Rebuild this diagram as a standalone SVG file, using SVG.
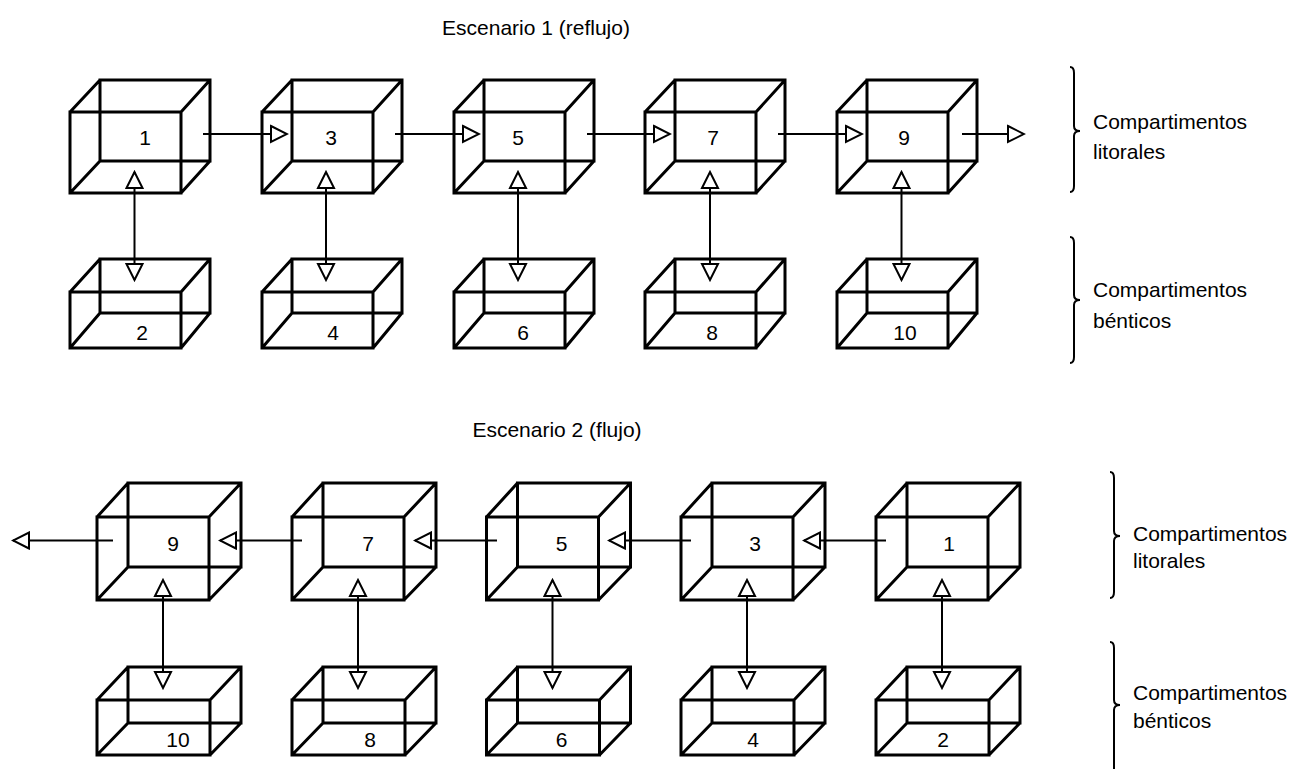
<svg xmlns="http://www.w3.org/2000/svg" width="1300" height="769" viewBox="0 0 1300 769">
<style>
.box{fill:none;stroke:#000;stroke-width:3;stroke-linejoin:miter}
.lbl{font-family:"Liberation Sans",Arial,sans-serif;font-size:21px;fill:#000;text-anchor:middle}
.txt{font-family:"Liberation Sans",Arial,sans-serif;font-size:21px;fill:#000}
.con{fill:none;stroke:#000;stroke-width:2}
.brace{fill:none;stroke:#000;stroke-width:2}
</style>
<defs>
<marker id="ah" viewBox="0 0 20 20" refX="18" refY="10" markerWidth="20" markerHeight="20" markerUnits="userSpaceOnUse" orient="auto-start-reverse">
<path d="M2,2 L18,10 L2,18 Z" fill="#fff" stroke="#000" stroke-width="2"/>
</marker>
<path id="t1" d="M0,112 H111 V193 H0 Z M30,80 H140 V161 H30 Z M0,112 L30,80 M111,112 L140,80 M111,193 L140,161 M0,193 L30,161"/>
<path id="b1" d="M0,292 H111 V348 H0 Z M30,259 H140 V313 H30 Z M0,292 L30,259 M111,292 L140,259 M111,348 L140,313 M0,348 L30,313"/>
<path id="t2" d="M0,517 H112 V600 H0 Z M31,483 H144 V567 H31 Z M0,517 L31,483 M112,517 L144,483 M112,600 L144,567 M0,600 L31,567"/>
<path id="b2" d="M0,700 H113 V755 H0 Z M31,667 H144 V723 H31 Z M0,700 L31,667 M113,700 L144,667 M113,755 L144,723 M0,755 L31,723"/>
</defs>
<rect width="1300" height="769" fill="#fff"/>

<text class="lbl" x="536" y="35">Escenario 1 (reflujo)</text>
<text class="lbl" x="557" y="437">Escenario 2 (flujo)</text>

<!-- Scenario 1 littoral -->
<g id="s1-n1" transform="translate(70,0)"><use href="#t1" class="box"/><text class="lbl" x="75" y="145">1</text></g>
<g id="s1-n3" transform="translate(262,0)"><use href="#t1" class="box"/><text class="lbl" x="69" y="145">3</text></g>
<g id="s1-n5" transform="translate(454,0)"><use href="#t1" class="box"/><text class="lbl" x="64" y="145">5</text></g>
<g id="s1-n7" transform="translate(645,0)"><use href="#t1" class="box"/><text class="lbl" x="68" y="145">7</text></g>
<g id="s1-n9" transform="translate(837,0)"><use href="#t1" class="box"/><text class="lbl" x="67" y="145">9</text></g>
<!-- Scenario 1 benthic -->
<g id="s1-n2" transform="translate(70,0)"><use href="#b1" class="box"/><text class="lbl" x="72" y="340">2</text></g>
<g id="s1-n4" transform="translate(262,0)"><use href="#b1" class="box"/><text class="lbl" x="71" y="340">4</text></g>
<g id="s1-n6" transform="translate(454,0)"><use href="#b1" class="box"/><text class="lbl" x="69" y="340">6</text></g>
<g id="s1-n8" transform="translate(645,0)"><use href="#b1" class="box"/><text class="lbl" x="67" y="340">8</text></g>
<g id="s1-n10" transform="translate(837,0)"><use href="#b1" class="box"/><text class="lbl" x="68" y="340">10</text></g>

<!-- Scenario 2 littoral -->
<g id="s2-n9" transform="translate(97,0)"><use href="#t2" class="box"/><text class="lbl" x="76" y="551">9</text></g>
<g id="s2-n7" transform="translate(292,0)"><use href="#t2" class="box"/><text class="lbl" x="76" y="551">7</text></g>
<g id="s2-n5" transform="translate(486.5,0)"><use href="#t2" class="box"/><text class="lbl" x="75" y="551">5</text></g>
<g id="s2-n3" transform="translate(681,0)"><use href="#t2" class="box"/><text class="lbl" x="74" y="551">3</text></g>
<g id="s2-n1" transform="translate(876,0)"><use href="#t2" class="box"/><text class="lbl" x="73" y="551">1</text></g>
<!-- Scenario 2 benthic -->
<g id="s2-n10" transform="translate(97,0)"><use href="#b2" class="box"/><text class="lbl" x="81" y="747">10</text></g>
<g id="s2-n8" transform="translate(292,0)"><use href="#b2" class="box"/><text class="lbl" x="78" y="747">8</text></g>
<g id="s2-n6" transform="translate(486.5,0)"><use href="#b2" class="box"/><text class="lbl" x="75" y="747">6</text></g>
<g id="s2-n4" transform="translate(681,0)"><use href="#b2" class="box"/><text class="lbl" x="72" y="747">4</text></g>
<g id="s2-n2" transform="translate(876,0)"><use href="#b2" class="box"/><text class="lbl" x="67" y="747">2</text></g>

<g id="connectors" class="con">
<line x1="203" y1="134" x2="287" y2="134" marker-end="url(#ah)"/>
<line x1="395" y1="134" x2="479" y2="134" marker-end="url(#ah)"/>
<line x1="587" y1="134" x2="670" y2="134" marker-end="url(#ah)"/>
<line x1="778" y1="134" x2="862" y2="134" marker-end="url(#ah)"/>
<line x1="962" y1="134" x2="1024" y2="134" marker-end="url(#ah)"/>
<line x1="134.5" y1="172" x2="134.5" y2="280" marker-start="url(#ah)" marker-end="url(#ah)"/>
<line x1="326" y1="172" x2="326" y2="280" marker-start="url(#ah)" marker-end="url(#ah)"/>
<line x1="518" y1="172" x2="518" y2="280" marker-start="url(#ah)" marker-end="url(#ah)"/>
<line x1="710" y1="172" x2="710" y2="280" marker-start="url(#ah)" marker-end="url(#ah)"/>
<line x1="901.5" y1="172" x2="901.5" y2="280" marker-start="url(#ah)" marker-end="url(#ah)"/>
<line x1="302" y1="540.5" x2="220" y2="540.5" marker-end="url(#ah)"/>
<line x1="497" y1="540.5" x2="415" y2="540.5" marker-end="url(#ah)"/>
<line x1="691" y1="540.5" x2="609" y2="540.5" marker-end="url(#ah)"/>
<line x1="886" y1="540.5" x2="804" y2="540.5" marker-end="url(#ah)"/>
<line x1="113" y1="540.5" x2="13" y2="540.5" marker-end="url(#ah)"/>
<line x1="163" y1="580" x2="163" y2="688" marker-start="url(#ah)" marker-end="url(#ah)"/>
<line x1="358" y1="580" x2="358" y2="688" marker-start="url(#ah)" marker-end="url(#ah)"/>
<line x1="552.5" y1="580" x2="552.5" y2="688" marker-start="url(#ah)" marker-end="url(#ah)"/>
<line x1="747" y1="580" x2="747" y2="688" marker-start="url(#ah)" marker-end="url(#ah)"/>
<line x1="942" y1="580" x2="942" y2="688" marker-start="url(#ah)" marker-end="url(#ah)"/>
</g>

<g id="braces" class="brace">
<path d="M1070,67 Q1074,67 1074,73 V126 Q1074,131 1080,131 Q1074,131 1074,136 V186 Q1074,192 1070,192"/>
<path d="M1070,237 Q1074,237 1074,243 V295 Q1074,300 1080,300 Q1074,300 1074,305 V357 Q1074,363 1070,363"/>
<path d="M1110,472 Q1114,472 1114,478 V531 Q1114,536 1120,536 Q1114,536 1114,541 V592 Q1114,598 1110,598"/>
<path d="M1110,642 Q1114,642 1114,648 V700 Q1114,705 1120,705 Q1114,705 1114,710 V769"/>
</g>

<g id="labels">
<text class="txt" x="1093" y="129">Compartimentos</text>
<text class="txt" x="1093" y="159">litorales</text>
<text class="txt" x="1093" y="297">Compartimentos</text>
<text class="txt" x="1093" y="328">bénticos</text>
<text class="txt" x="1133" y="541">Compartimentos</text>
<text class="txt" x="1133" y="568">litorales</text>
<text class="txt" x="1133" y="700">Compartimentos</text>
<text class="txt" x="1133" y="728">bénticos</text>
</g>
</svg>
